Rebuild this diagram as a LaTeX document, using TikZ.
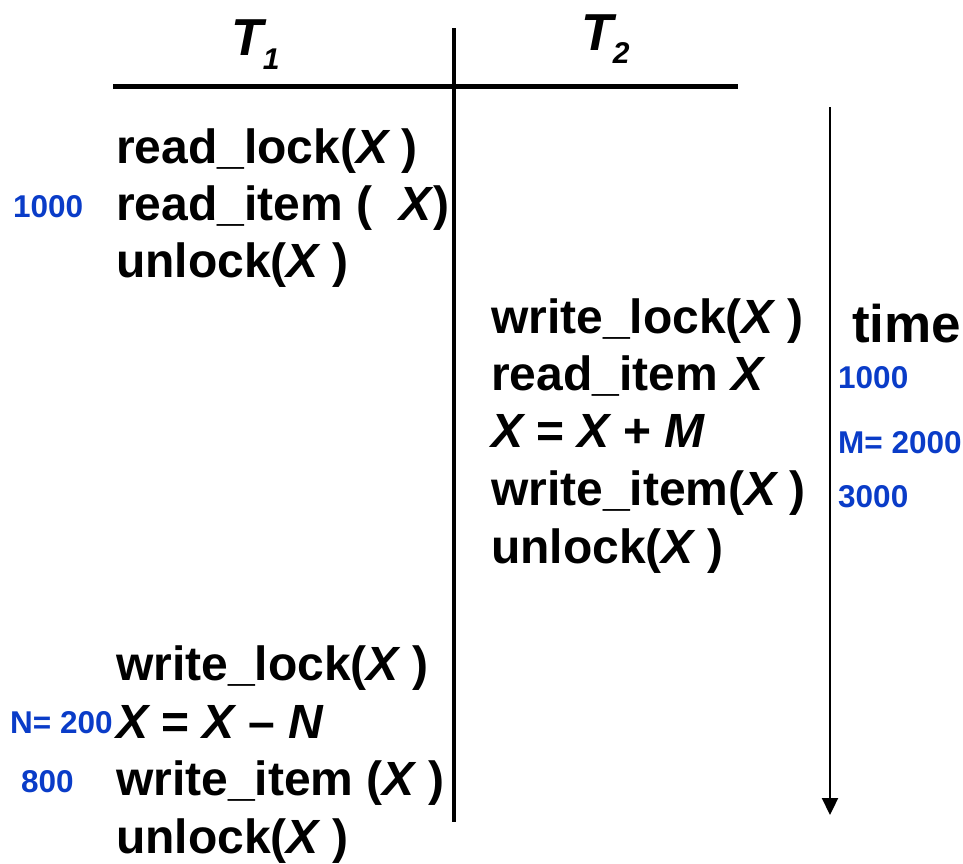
\documentclass[tikz,border=0pt]{standalone}
\usepackage{fontspec}
\setmainfont{Liberation Sans}
\usetikzlibrary{arrows.meta}
\definecolor{numblue}{RGB}{10,60,200}
\newcommand{\vX}{{\itshape X}}
\begin{document}
\begin{tikzpicture}[x=1pt,y=-1pt,
  txt/.style={anchor=base west, inner sep=0pt, font=\fontsize{48}{48}\selectfont\bfseries},
  num/.style={anchor=base west, inner sep=0pt, text=numblue, font=\fontsize{31.5}{31.5}\selectfont\bfseries},
  hdr/.style={anchor=base west, inner sep=0pt, font=\fontsize{52}{52}\selectfont\bfseries\itshape},
  rule/.style={line width=5pt, black},
  vrule/.style={line width=4.5pt, black},
  timeline/.style={line width=2.2pt, -{Triangle[length=17pt,width=16pt]}}]
\useasboundingbox (0,0) rectangle (963,863);
% headers
\node[hdr] (t1) at (231,55) {T\raisebox{-14pt}{\fontsize{30}{30}\selectfont 1}};
\node[hdr] (t2) at (581,50) {T\raisebox{-13pt}{\fontsize{30}{30}\selectfont 2}};
% table rules
\coordinate (hl) at (113,86);
\coordinate (hr) at (738,86);
\coordinate (vt) at (454,28);
\coordinate (vb) at (454,822);
\draw[rule] (hl) -- (hr);
\draw[vrule] (vt) -- (vb);
% time arrow
\coordinate (ta) at (830,107);
\coordinate (tb) at (830,815);
\draw[timeline] (ta) -- (tb);
\node[anchor=base west, inner sep=0pt, font=\fontsize{53}{53}\selectfont\bfseries] (time) at (852,342) {time};
% T1 first block
\node[txt] (a1) at (116,163) {read\_lock(\vX\ )};
\node[txt] (a2) at (116,220) {read\_item (\hspace{14pt} \vX\kern2pt)};
\node[txt] (a3) at (116,277) {unlock(\vX\ )};
% T2 block
\node[txt] (b1) at (491,333) {write\_lock(\vX\ )};
\node[txt] (b2) at (491,390) {read\_item \vX};
\node[txt] (b3) at (491,447) {\vX\ = \vX\ + {\itshape M}};
\node[txt] (b4) at (491,505) {write\_item(\vX\ )};
\node[txt] (b5) at (491,563) {unlock(\vX\ )};
% T1 second block
\node[txt] (c1) at (116,680) {write\_lock(\vX\ )};
\node[txt] (c2) at (116,738) {\vX\ = \vX\ -- {\itshape N}};
\node[txt] (c3) at (116,795) {write\_item (\vX\ )};
\node[txt] (c4) at (116,853) {unlock(\vX\ )};
% values
\node[num] (v1) at (13,217) {1000};
\node[num] (v2) at (838,388) {1000};
\node[num] (v3) at (838,453) {M= 2000};
\node[num] (v4) at (838,507) {3000};
\node[num] (v5) at (10,733) {N= 200};
\node[num] (v6) at (21,792) {800};
\end{tikzpicture}
\end{document}
